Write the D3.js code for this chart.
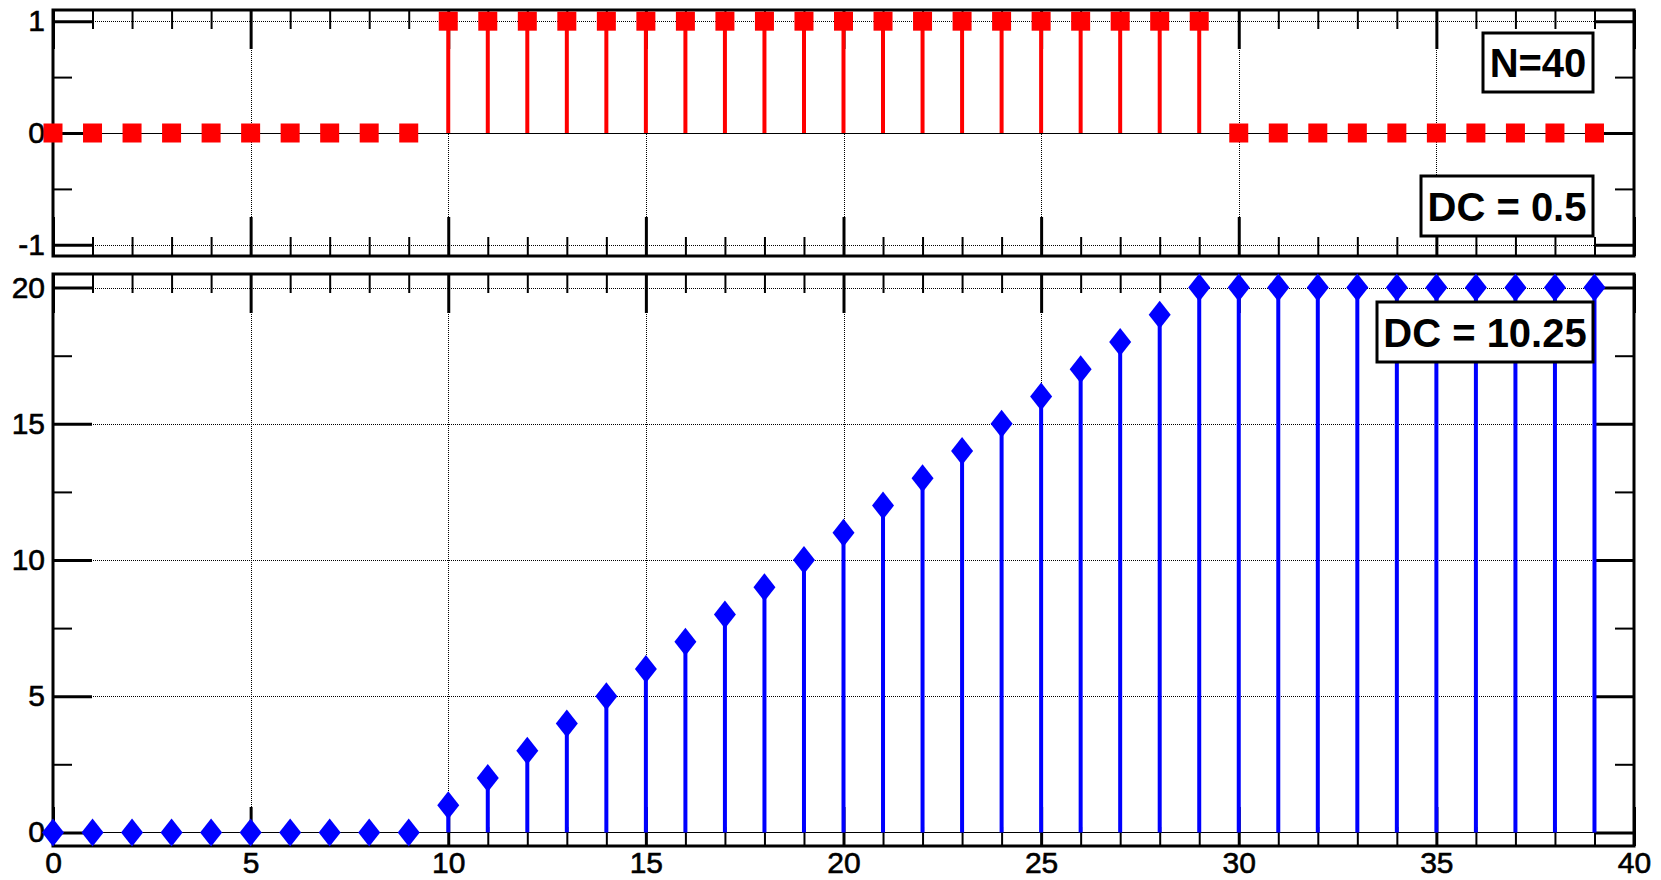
<!DOCTYPE html>
<html>
<head>
<meta charset="utf-8">
<script src="https://cdn.jsdelivr.net/npm/d3@7"></script>
<style>
  body { margin: 0; background: #fff; }
  text { font-family: "Liberation Sans", Arial, Helvetica, sans-serif; }
</style>
</head>
<body>
<svg id="chart"></svg>
<script>
// sample index n
const samples = [0, 1, 2, 3, 4, 5, 6, 7, 8, 9, 10, 11, 12, 13, 14, 15, 16, 17, 18, 19,
  20, 21, 22, 23, 24, 25, 26, 27, 28, 29, 30, 31, 32, 33, 34, 35, 36, 37, 38, 39];

// top: rectangular pulse
const pulse = [0, 0, 0, 0, 0, 0, 0, 0, 0, 0,
  1, 1, 1, 1, 1, 1, 1, 1, 1, 1, 1, 1, 1, 1, 1, 1, 1, 1, 1, 1,
  0, 0, 0, 0, 0, 0, 0, 0, 0, 0];

// bottom: running sum
const ramp = [0, 0, 0, 0, 0, 0, 0, 0, 0, 0,
  1, 2, 3, 4, 5, 6, 7, 8, 9, 10, 11, 12, 13, 14, 15, 16, 17, 18, 19,
  20, 20, 20, 20, 20, 20, 20, 20, 20, 20, 20];

const xMajor = [0, 5, 10, 15, 20, 25, 30, 35, 40];
const xMinor = [1, 2, 3, 4, 6, 7, 8, 9, 11, 12, 13, 14, 16, 17, 18, 19, 21, 22, 23, 24,
  26, 27, 28, 29, 31, 32, 33, 34, 36, 37, 38, 39];
const topYMajor = [-1, 0, 1];
const topYMinor = [-0.5, 0.5];
const botYMajor = [0, 5, 10, 15, 20];
const botYMinor = [2.5, 7.5, 12.5, 17.5];

const topLabels = ["N=40", "DC = 0.5"];
const botLabels = ["DC = 10.25"];

const W = 1661, H = 880;
const left = 53, right = 1634;

const svg = d3.select("#chart").attr("width", W).attr("height", H);
svg.append("rect").attr("width", W).attr("height", H).attr("fill", "#fff");

const x = d3.scaleLinear().domain([0, 40]).range([left, right]);

function styleLabels(sel) {
  sel.selectAll("text").attr("font-size", 30).attr("fill", "#000")
    .attr("stroke", "#000").attr("stroke-width", 0.6)
    .attr("font-family", '"Liberation Sans", Arial, sans-serif');
}

function drawPanel(p) {
  const y = d3.scaleLinear().domain(p.yDomain).range([p.bottom, p.top]);
  const g = svg.append("g");
  const h = p.bottom - p.top;
  const w = right - left;

  // dotted grid
  const grid = g.append("g").attr("stroke", "#000").attr("stroke-width", 1)
    .attr("stroke-dasharray", "1,1");
  grid.selectAll("line.gx").data(xMajor.slice(1, -1)).join("line")
    .attr("x1", d => Math.round(x(d)) + 0.5).attr("x2", d => Math.round(x(d)) + 0.5)
    .attr("y1", p.top).attr("y2", p.bottom);
  grid.selectAll("line.gy").data(p.yMajor).join("line")
    .attr("y1", d => Math.round(y(d)) + 0.5).attr("y2", d => Math.round(y(d)) + 0.5)
    .attr("x1", left).attr("x2", right);

  // solid zero line
  g.append("line")
    .attr("x1", left).attr("x2", right)
    .attr("y1", Math.round(y(0)) + 0.5).attr("y2", Math.round(y(0)) + 0.5)
    .attr("stroke", "#000").attr("stroke-width", 1);

  // ticks via d3 axes (pointing inward)
  const addAxis = (axis, tx, ty, sw) => {
    const a = g.append("g").attr("transform", `translate(${tx},${ty})`).call(axis);
    a.select(".domain").remove();
    a.selectAll(".tick line").attr("stroke", "#000").attr("stroke-width", sw);
    return a;
  };

  addAxis(d3.axisTop(x).tickValues(xMajor).tickSize(-39).tickFormat(""), 0, p.top, 3);
  addAxis(d3.axisTop(x).tickValues(xMinor).tickSize(-19).tickFormat(""), 0, p.top, 2);
  addAxis(d3.axisBottom(x).tickValues(xMinor).tickSize(-19).tickFormat(""), 0, p.bottom, 2);
  const xb = addAxis(d3.axisBottom(x).tickValues(xMajor).tickSize(-39).tickPadding(6)
    .tickFormat(p.xLabels ? d => String(d) : ""), 0, p.bottom, 3);
  styleLabels(xb);

  const yl = addAxis(d3.axisLeft(y).tickValues(p.yMajor).tickSize(-39).tickPadding(8)
    .tickFormat(d => String(d)), left, 0, 3);
  styleLabels(yl);
  addAxis(d3.axisLeft(y).tickValues(p.yMinor).tickSize(-19).tickFormat(""), left, 0, 2);
  addAxis(d3.axisRight(y).tickValues(p.yMajor).tickSize(-39).tickFormat(""), right, 0, 3);
  addAxis(d3.axisRight(y).tickValues(p.yMinor).tickSize(-19).tickFormat(""), right, 0, 2);

  // frame
  g.append("rect").attr("x", left).attr("y", p.top).attr("width", w).attr("height", h)
    .attr("fill", "none").attr("stroke", "#000").attr("stroke-width", 3);

  // stems
  g.append("g").selectAll("line").data(samples).join("line")
    .attr("x1", d => x(d)).attr("x2", d => x(d))
    .attr("y1", y(0)).attr("y2", d => y(p.values[d]))
    .attr("stroke", p.color).attr("stroke-width", 4);

  // markers
  const m = g.append("g").attr("fill", p.color);
  if (p.marker === "square") {
    m.selectAll("rect").data(samples).join("rect")
      .attr("x", d => x(d) - 9.5).attr("y", d => y(p.values[d]) - 9.5)
      .attr("width", 19).attr("height", 19);
  } else {
    m.selectAll("path").data(samples).join("path")
      .attr("transform", d => `translate(${x(d)},${y(p.values[d])})`)
      .attr("d", "M0,-14L11,0L0,14L-11,0Z");
  }

  // text boxes
  p.boxes.forEach(b => {
    const bg = g.append("g");
    bg.append("rect").attr("x", b.x).attr("y", b.y).attr("width", b.w).attr("height", b.h)
      .attr("fill", "#fff").attr("stroke", "#000").attr("stroke-width", 3);
    bg.append("text").attr("x", b.x + b.w / 2).attr("y", b.y + b.h / 2 + 14.5)
      .attr("text-anchor", "middle").attr("font-size", 40).attr("font-weight", "bold")
      .attr("fill", "#000").text(b.text);
  });
}

drawPanel({
  top: 10, bottom: 256, yDomain: [-1.1, 1.1],
  yMajor: topYMajor, yMinor: topYMinor, xLabels: false,
  values: pulse, color: "#ff0000", marker: "square",
  boxes: [
    { text: topLabels[0], x: 1483, y: 33, w: 110, h: 59 },
    { text: topLabels[1], x: 1421, y: 176, w: 172, h: 60 }
  ]
});

drawPanel({
  top: 274, bottom: 846, yDomain: [-0.5, 20.5],
  yMajor: botYMajor, yMinor: botYMinor, xLabels: true,
  values: ramp, color: "#0000ff", marker: "diamond",
  boxes: [
    { text: botLabels[0], x: 1377, y: 302, w: 216, h: 60 }
  ]
});
</script>
</body>
</html>
